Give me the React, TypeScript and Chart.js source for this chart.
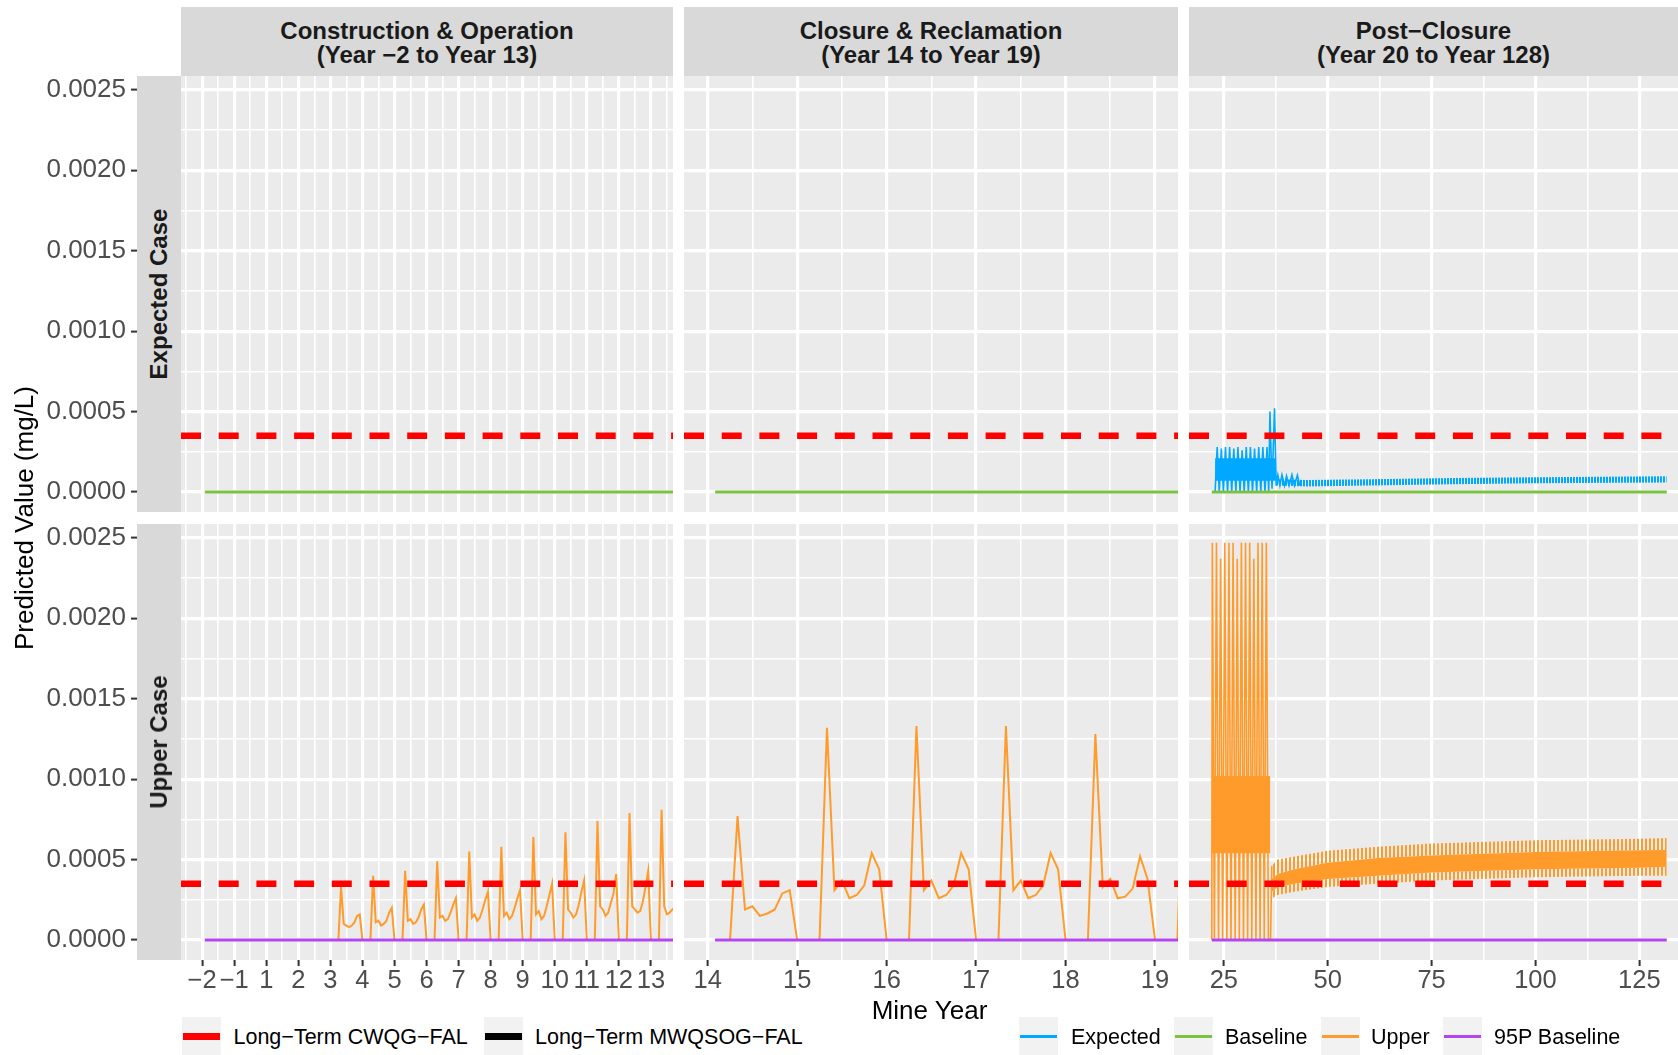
import React, { useEffect, useRef } from "react";
import { Chart, registerables } from "chart.js";

Chart.register(...registerables);

/* ===================== DATA ===================== */
const cwqgLimit = 0.00035; // Long-Term CWQG-FAL (mg/L)

// Construction & Operation panel: plotted positions and their Mine-Year labels (no Year 0)
const opsTickPositions = [-2, -1, 0, 1, 2, 3, 4, 5, 6, 7, 8, 9, 10, 11, 12];
const opsTickLabels = ["−2", "−1", "1", "2", "3", "4", "5", "6", "7", "8", "9", "10", "11", "12", "13"];
const opsMinorTicks = [-2.5, -1.5, -0.5, 0.5, 1.5, 2.5, 3.5, 4.5, 5.5, 6.5, 7.5, 8.5, 9.5, 10.5, 11.5, 12.5];
const closureTicks = [14, 15, 16, 17, 18, 19];
const closureMinorTicks = [14.5, 15.5, 16.5, 17.5, 18.5];
const postTicks = [25, 50, 75, 100, 125];
const postMinorTicks = [37.5, 62.5, 87.5, 112.5];
const yMajorTicks = [0, 0.0005, 0.001, 0.0015, 0.002, 0.0025];
const yMinorTicks = [0.00025, 0.00075, 0.00125, 0.00175, 0.00225];

// Baseline / 95P baseline extents (value 0)
const opsBaselineSpan = [-1.917, 12.917];
const closureBaselineSpan = [14.083, 19.917];
const postBaselineSpan = [22.1, 131.6];

// Upper case, Construction & Operation: monthly values starting at the "Year 3" position
const upperOpsStart = 2;
const upperOpsMonthly = [
  0, 0, 0, 0, 0.00033, 0.0001, 0.00009, 0.00008, 0.00009, 0.00011, 0.00015, 0.00016,
  0, 0, 0, 0, 0.0004, 0.00011, 0.00012, 0.00009, 0.0001, 0.00012, 0.00017, 0.0002,
  0, 0, 0, 0, 0.00043, 0.00012, 0.00013, 0.0001, 0.00011, 0.00014, 0.00019, 0.00022,
  0, 0, 0, 0, 0.00049, 0.00014, 0.00015, 0.00012, 0.00013, 0.00017, 0.00022, 0.00026,
  0, 0, 0, 0, 0.00055, 0.00014, 0.00016, 0.00012, 0.00014, 0.00019, 0.00025, 0.0003,
  0, 0, 0, 0, 0.00058, 0.00015, 0.00017, 0.00013, 0.00015, 0.0002, 0.00026, 0.00031,
  0, 0, 0, 0, 0.00064, 0.00016, 0.00018, 0.00013, 0.00015, 0.00021, 0.00028, 0.00035,
  0, 0, 0, 0, 0.00067, 0.00019, 0.00017, 0.00014, 0.00016, 0.00022, 0.0003, 0.00037,
  0, 0, 0, 0, 0.00074, 0.00021, 0.00019, 0.00015, 0.00017, 0.00023, 0.00029, 0.00041,
  0, 0, 0, 0, 0.00079, 0.00021, 0.00019, 0.00017, 0.00018, 0.00024, 0.00033, 0.00043,
  0, 0, 0, 0, 0.00081, 0.00021, 0.00016, 0.00017, 0.00019, 0.0002,
];

// Upper case, Closure & Reclamation: monthly values starting at Year 14 + 1 month
const upperClosureStart = 14 + 1 / 12;
const upperClosureMonthly = [
  0, 0, 0, 0.00077, 0.00019, 0.00021, 0.00015, 0.000165, 0.00019, 0.00029, 0.00031,
  0, 0, 0, 0, 0.00132, 0.00031, 0.00037, 0.00026, 0.00028, 0.00034, 0.00054, 0.00044,
  0, 0, 0, 0, 0.00133, 0.00031, 0.00037, 0.00026, 0.00028, 0.00034, 0.00054, 0.00044,
  0, 0, 0, 0, 0.00133, 0.00031, 0.00037, 0.00026, 0.00028, 0.00034, 0.00054, 0.00044,
  0, 0, 0, 0, 0.00128, 0.00033, 0.00038, 0.00026, 0.00027, 0.00032, 0.00052, 0.00038,
  0, 0, 0, 0, 0.0013,
];

// Expected case, Post-Closure: early spiky record
const expectedPostYears = [
  22.9, 23.4, 23.9, 24.4, 24.9, 25.4, 25.9, 26.4, 26.9, 27.4,
  27.9, 28.4, 28.9, 29.4, 29.9, 30.4, 30.9, 31.4, 31.9, 32.4,
  32.9, 33.4, 33.9, 34.4, 34.9, 35.4, 35.8, 36.1, 36.6, 37.2,
  37.6, 38.0, 38.5, 39.0, 39.6, 40.1, 40.7, 41.4, 42.0, 42.7, 43.3,
];
const expectedPostValues = [
  0, 0.00028, 0, 0.00027, 0, 0.00028, 0, 0.00028, 0, 0.00027,
  0, 0.00028, 0, 0.00026, 0, 0.00028, 0, 0.00028, 0, 0.00027,
  0, 0.00028, 0, 0.00028, 0, 0.00028, 0, 0.0005, 0.00002, 0.00052,
  0.00004, 0.000105, 0.00004, 0.000107, 0.00004, 0.0001, 0.00004, 0.000107, 0.00004, 0.000105, 0.00004,
];
// dense monthly cloud of the early Expected record (range covered by overlapping lines)
const expectedCoreYears = [22.9, 37.6];
const expectedCoreLow = [0.00007, 0.00007];
const expectedCoreHigh = [0.00021, 0.00021];
// long-term Expected oscillation envelope
const expectedBandYears = [37.6, 45, 60, 80, 100, 131.6];
const expectedBandLow = [0.00004, 0.000035, 0.00004, 0.000048, 0.000055, 0.00006];
const expectedBandHigh = [0.00008, 0.000075, 0.00008, 0.000087, 0.000092, 0.000098];

// Upper case, Post-Closure: early annual spikes
const upperPostYears = [
  22.1, 22.23, 22.73, 23.23, 23.73, 24.23, 24.73, 25.23, 25.73, 26.23, 26.73,
  27.23, 27.73, 28.23, 28.73, 29.23, 29.73, 30.23, 30.73, 31.23, 31.73,
  32.23, 32.73, 33.23, 33.73, 34.23, 34.73, 35.23, 35.73, 36.25, 36.55,
];
const upperPostValues = [
  0, 0.00247, 0, 0.00247, 0, 0.00237, 0, 0.00247, 0, 0.00247, 0,
  0.00247, 0, 0.00237, 0, 0.00247, 0, 0.00247, 0, 0.00247, 0,
  0.00237, 0, 0.00247, 0, 0.00247, 0, 0.00247, 0, 0, 0.00046,
];
const upperCoreYears = [22.15, 36.2];
const upperCoreLow = [0.00054, 0.00054];
const upperCoreHigh = [0.00102, 0.00102];
// long-term Upper oscillation envelope (outer spikes and dense core)
const upperBandYears = [36.5, 38, 42, 50, 62, 75, 100, 125, 131.6];
const upperBandSpikeLow = [0.00026, 0.00028, 0.0003, 0.00033, 0.00035, 0.00037, 0.00039, 0.0004, 0.0004];
const upperBandLow = [0.0003, 0.00033, 0.00035, 0.00038, 0.0004, 0.00042, 0.00044, 0.00045, 0.000455];
const upperBandHigh = [0.00038, 0.00041, 0.00044, 0.00048, 0.00051, 0.000525, 0.000548, 0.000558, 0.00056];
const upperBandSpikeHigh = [0.00046, 0.0005, 0.00052, 0.000555, 0.00058, 0.0006, 0.00062, 0.00063, 0.000635];

const colStripTitles = [
  ["Construction & Operation", "(Year −2 to Year 13)"],
  ["Closure & Reclamation", "(Year 14 to Year 19)"],
  ["Post−Closure", "(Year 20 to Year 128)"],
];
const rowStripTitles = ["Expected Case", "Upper Case"];
const legendLeft = ["Long−Term CWQG−FAL", "Long−Term MWQSOG−FAL"];
const legendRight = ["Expected", "Baseline", "Upper", "95P Baseline"];

/* ===================== STYLE / LAYOUT ===================== */
const C_RED = "#FF0000";
const C_BLACK = "#000000";
const C_BLUE = "#00A9FF";
const C_GREEN = "#7CC242";
const C_ORANGE = "#FF9B2B";
const C_PURPLE = "#B446F0";
const FONT = '"Liberation Sans", Arial, sans-serif';

const COLS = [
  { left: 181, right: 673, min: -2.66, max: 12.69 },
  { left: 684, right: 1178, min: 13.735, max: 19.257 },
  { left: 1189, right: 1678, min: 16.62, max: 134.31 },
];
const ROWS = [
  { top: 76, bottom: 512 },
  { top: 524, bottom: 960 },
];
const Y_MIN = -0.000124;
const Y_MAX = 0.002586;
const STRIP_LEFT = 137;
const XAXIS_H = 40;

function geom(row: number, col: number) {
  const c = COLS[col];
  const r = ROWS[row];
  const left = col === 0 ? 0 : c.left;
  const areaLeft = col === 0 ? STRIP_LEFT : c.left;
  const perPx = (c.max - c.min) / (c.right - c.left);
  return {
    left,
    top: r.top,
    width: c.right - left,
    height: r.bottom - r.top + (row === 1 ? XAXIS_H : 0),
    yAxisW: areaLeft - left,
    xmin: c.min - (c.left - areaLeft) * perPx,
    xmax: c.max,
  };
}

const near = (list: number[], v: any) =>
  typeof v === "number" && list.some((m) => Math.abs(m - v) < 1e-9);

const pts = (xs: number[], ys: number[]) => xs.map((x, i) => ({ x, y: ys[i] }));
const monthly = (start: number, vals: number[]) => vals.map((y, i) => ({ x: start + i / 12, y }));
const flat = (span: number[], y: number) => [
  { x: span[0], y },
  { x: span[1], y },
];

function lineDs(data: any[], color: string, width: number, order: number, extra: any = {}) {
  return {
    data,
    borderColor: color,
    backgroundColor: color,
    borderWidth: width,
    pointRadius: 0,
    pointHoverRadius: 0,
    pointHitRadius: 0,
    tension: 0,
    fill: false,
    order,
    clip: 0,
    ...extra,
  };
}
function edgeDs(data: any[], order: number, fill: any, bg: any) {
  return {
    data,
    borderColor: "rgba(0,0,0,0)",
    backgroundColor: bg,
    borderWidth: 0,
    pointRadius: 0,
    pointHoverRadius: 0,
    tension: 0,
    fill,
    order,
    clip: 0,
  };
}

function stripePattern(color: string, period: number, on: number) {
  const c = document.createElement("canvas");
  c.width = period;
  c.height = 4;
  const g = c.getContext("2d")!;
  g.fillStyle = color;
  g.fillRect(0, 0, on, 4);
  return g.createPattern(c, "repeat");
}

function makeDatasets(row: number, col: number) {
  const c = COLS[col];
  const red = lineDs(flat([c.min, c.max], cwqgLimit), C_RED, 6.5, 0, { borderDash: [20, 17.7] });
  const spans = [opsBaselineSpan, closureBaselineSpan, postBaselineSpan];
  const baseColor = row === 0 ? C_GREEN : C_PURPLE;
  const base = lineDs(flat(spans[col], 0), baseColor, 3, 1);
  const ds: any[] = [];
  if (row === 1 && col === 0) ds.push(lineDs(monthly(upperOpsStart, upperOpsMonthly), C_ORANGE, 2, 2));
  if (row === 1 && col === 1) ds.push(lineDs(monthly(upperClosureStart, upperClosureMonthly), C_ORANGE, 2, 2));
  if (row === 0 && col === 2) {
    const stripes = stripePattern(C_BLUE, 3, 2);
    ds.push(edgeDs(pts(expectedCoreYears, expectedCoreLow), 5, false, C_BLUE));
    ds.push(edgeDs(pts(expectedCoreYears, expectedCoreHigh), 5, "-1", C_BLUE));
    ds.push(edgeDs(pts(expectedBandYears, expectedBandLow), 5, false, C_BLUE));
    ds.push(edgeDs(pts(expectedBandYears, expectedBandHigh), 5, "-1", stripes));
    ds.push(lineDs(pts(expectedPostYears, expectedPostValues), C_BLUE, 1.6, 2));
  }
  if (row === 1 && col === 2) {
    const stripes = stripePattern(C_ORANGE, 4, 2);
    ds.push(edgeDs(pts(upperCoreYears, upperCoreLow), 5, false, C_ORANGE));
    ds.push(edgeDs(pts(upperCoreYears, upperCoreHigh), 5, "-1", C_ORANGE));
    ds.push(edgeDs(pts(upperBandYears, upperBandSpikeLow), 5, false, C_ORANGE));
    ds.push(edgeDs(pts(upperBandYears, upperBandLow), 5, "-1", stripes));
    ds.push(edgeDs(pts(upperBandYears, upperBandHigh), 5, "-1", C_ORANGE));
    ds.push(edgeDs(pts(upperBandYears, upperBandSpikeHigh), 5, "-1", stripes));
    ds.push(lineDs(pts(upperPostYears, upperPostValues), C_ORANGE, 1.6, 2));
  }
  ds.push(base);
  ds.push(red);
  return ds;
}

const panelBg = {
  id: "panelBg",
  beforeDraw(chart: any) {
    const { ctx, chartArea: a } = chart;
    ctx.save();
    ctx.fillStyle = "#EBEBEB";
    ctx.fillRect(a.left, a.top, a.right - a.left, a.bottom - a.top);
    ctx.restore();
  },
};

function makeConfig(row: number, col: number): any {
  const g = geom(row, col);
  const xMajors = [opsTickPositions, closureTicks, postTicks][col];
  const xMinors = [opsMinorTicks, closureMinorTicks, postMinorTicks][col];
  const showX = row === 1;
  const showY = col === 0;
  const xLabel = (v: number) => {
    if (!near(xMajors, v)) return "";
    if (col === 0) return opsTickLabels[opsTickPositions.findIndex((p) => Math.abs(p - v) < 1e-9)];
    return String(v);
  };
  const zeroPad = (s: any) => {
    s.paddingLeft = 0;
    s.paddingRight = 0;
    s.paddingTop = 0;
    s.paddingBottom = 0;
  };
  return {
    type: "line",
    data: { datasets: makeDatasets(row, col) },
    plugins: [panelBg],
    options: {
      responsive: false,
      maintainAspectRatio: false,
      animation: false,
      devicePixelRatio: 1,
      events: [],
      layout: { padding: 0 },
      plugins: { legend: { display: false }, tooltip: { enabled: false }, title: { display: false } },
      scales: {
        x: {
          type: "linear",
          min: g.xmin,
          max: g.xmax,
          bounds: "data",
          afterBuildTicks: (s: any) => {
            s.ticks = [...xMajors, ...xMinors].sort((a, b) => a - b).map((v) => ({ value: v }));
          },
          afterFit: (s: any) => {
            s.height = showX ? XAXIS_H : 0;
            zeroPad(s);
          },
          ticks: {
            display: showX,
            autoSkip: false,
            maxRotation: 0,
            minRotation: 0,
            padding: 0,
            font: { family: FONT, size: 25.5 },
            color: "#4D4D4D",
            callback: (v: any) => xLabel(Number(v)),
          },
          grid: {
            color: "#FFFFFF",
            lineWidth: (ctx: any) => (near(xMajors, ctx.tick && ctx.tick.value) ? 3.2 : 1.6),
            drawTicks: showX,
            tickLength: 6,
            tickWidth: 2,
            tickColor: (ctx: any) => (near(xMajors, ctx.tick && ctx.tick.value) ? "#333333" : "rgba(0,0,0,0)"),
          },
          border: { display: false },
        },
        y: {
          type: "linear",
          min: Y_MIN,
          max: Y_MAX,
          bounds: "data",
          afterBuildTicks: (s: any) => {
            s.ticks = [...yMajorTicks, ...yMinorTicks].sort((a, b) => a - b).map((v) => ({ value: v }));
          },
          afterFit: (s: any) => {
            s.width = showY ? g.yAxisW : 0;
            zeroPad(s);
          },
          ticks: {
            display: showY,
            autoSkip: false,
            padding: 5,
            font: { family: FONT, size: 26 },
            color: "#4D4D4D",
            callback: (v: any) => (near(yMajorTicks, Number(v)) ? Number(v).toFixed(4) : ""),
          },
          grid: {
            color: "#FFFFFF",
            lineWidth: (ctx: any) => (near(yMajorTicks, ctx.tick && ctx.tick.value) ? 3.2 : 1.6),
            drawTicks: showY,
            tickLength: 6,
            tickWidth: 2,
            tickColor: (ctx: any) =>
              near(yMajorTicks, ctx.tick && ctx.tick.value) ? "#333333" : "rgba(0,0,0,0)",
          },
          border: { display: false },
        },
      },
    },
  };
}

function Panel({ row, col }: { row: number; col: number }) {
  const ref = useRef<HTMLCanvasElement>(null);
  const g = geom(row, col);
  useEffect(() => {
    const chart = new Chart(ref.current as HTMLCanvasElement, makeConfig(row, col));
    return () => chart.destroy();
  }, [row, col]);
  return (
    <canvas
      ref={ref}
      width={g.width}
      height={g.height}
      style={{ position: "absolute", left: g.left, top: g.top, width: g.width, height: g.height }}
    />
  );
}

function LegendItem({ label, color, keyLeft, textLeft, thick }: any) {
  return (
    <>
      <div
        style={{
          position: "absolute",
          left: keyLeft,
          top: 1017,
          width: 39,
          height: 39,
          background: "#F2F2F2",
        }}
      >
        <div
          style={{
            position: "absolute",
            left: 1,
            right: 1,
            top: 19.5 - thick / 2,
            height: thick,
            background: color,
          }}
        />
      </div>
      <div
        style={{
          position: "absolute",
          left: textLeft,
          top: 1037,
          transform: "translateY(-50%)",
          fontFamily: FONT,
          fontSize: 21.5,
          color: "#000",
          whiteSpace: "nowrap",
          lineHeight: "24px",
        }}
      >
        {label}
      </div>
    </>
  );
}

export default function App() {
  const leftKeys = [
    { color: C_RED, keyLeft: 182, textLeft: 233.5, thick: 7 },
    { color: C_BLACK, keyLeft: 484, textLeft: 535, thick: 7 },
  ];
  const rightKeys = [
    { color: C_BLUE, keyLeft: 1019, textLeft: 1071 },
    { color: C_GREEN, keyLeft: 1174, textLeft: 1225 },
    { color: C_ORANGE, keyLeft: 1321, textLeft: 1371 },
    { color: C_PURPLE, keyLeft: 1443, textLeft: 1494 },
  ];
  return (
    <div
      style={{
        position: "absolute",
        left: 0,
        top: 0,
        width: 1678,
        height: 1055,
        background: "#FFFFFF",
        overflow: "hidden",
        fontFamily: FONT,
      }}
    >
      {[0, 1].map((r) => [0, 1, 2].map((c) => <Panel key={`${r}-${c}`} row={r} col={c} />))}

      {COLS.map((c, i) => (
        <div
          key={`cs${i}`}
          style={{
            position: "absolute",
            left: c.left,
            top: 7,
            width: c.right - c.left,
            height: ROWS[0].top - 7,
            background: "#D9D9D9",
          }}
        >
          <div
            style={{
              position: "absolute",
              left: 0,
              right: 0,
              top: 12,
              textAlign: "center",
              fontFamily: FONT,
              fontWeight: "bold",
              fontSize: 24,
              lineHeight: "24px",
              color: "#1A1A1A",
              whiteSpace: "nowrap",
            }}
          >
            {colStripTitles[i][0]}
            <br />
            {colStripTitles[i][1]}
          </div>
        </div>
      ))}

      {ROWS.map((r, i) => (
        <div
          key={`rs${i}`}
          style={{
            position: "absolute",
            left: STRIP_LEFT,
            top: r.top,
            width: COLS[0].left - STRIP_LEFT,
            height: r.bottom - r.top,
            background: "#D9D9D9",
          }}
        >
          <div
            style={{
              position: "absolute",
              left: "50%",
              top: "50%",
              transform: "translate(-50%, -50%) rotate(-90deg)",
              fontFamily: FONT,
              fontWeight: "bold",
              fontSize: 24,
              lineHeight: "24px",
              color: "#1A1A1A",
              whiteSpace: "nowrap",
            }}
          >
            {rowStripTitles[i]}
          </div>
        </div>
      ))}

      <div
        style={{
          position: "absolute",
          left: 24,
          top: 518,
          transform: "translate(-50%, -50%) rotate(-90deg)",
          fontFamily: FONT,
          fontSize: 26,
          lineHeight: "28px",
          color: "#000",
          whiteSpace: "nowrap",
        }}
      >
        Predicted Value (mg/L)
      </div>
      <div
        style={{
          position: "absolute",
          left: (COLS[0].left + COLS[2].right) / 2,
          top: 1009.5,
          transform: "translate(-50%, -50%)",
          fontFamily: FONT,
          fontSize: 26,
          lineHeight: "28px",
          color: "#000",
          whiteSpace: "nowrap",
        }}
      >
        Mine Year
      </div>

      {legendLeft.map((label, i) => (
        <LegendItem key={`ll${i}`} label={label} {...leftKeys[i]} />
      ))}
      {legendRight.map((label, i) => (
        <LegendItem key={`lr${i}`} label={label} thick={3} {...rightKeys[i]} />
      ))}
    </div>
  );
}
